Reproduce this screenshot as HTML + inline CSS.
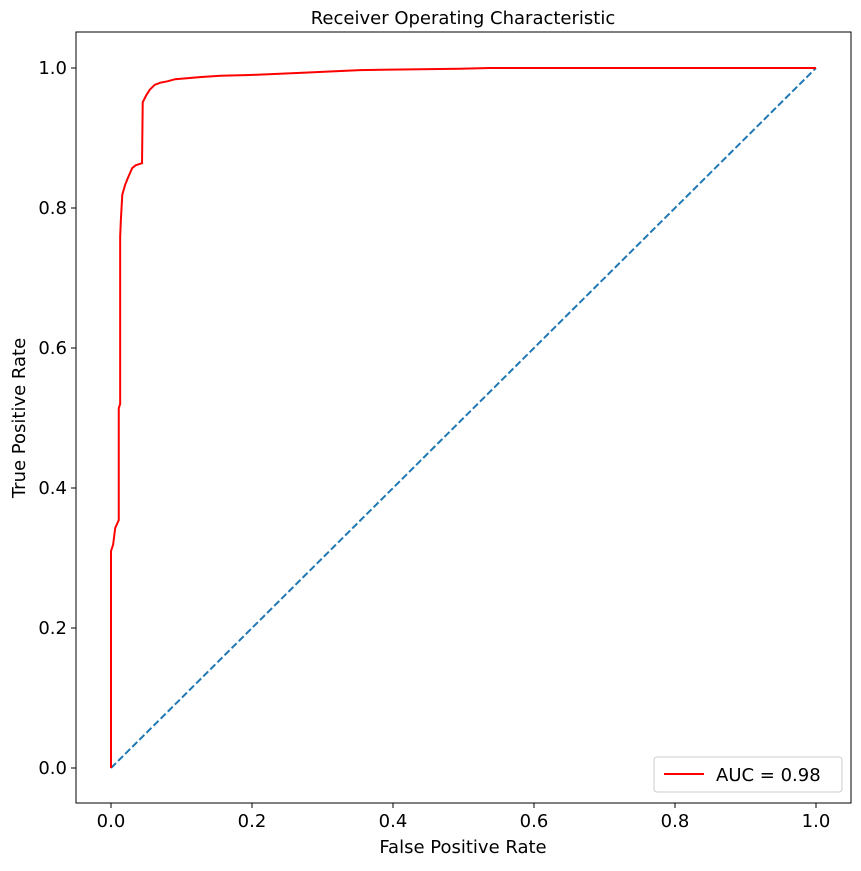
<!DOCTYPE html>
<html><head><meta charset="utf-8"><style>
body{margin:0;background:#fff;font-family:"Liberation Sans","DejaVu Sans",sans-serif}
svg text{font-family:"DejaVu Sans","Liberation Sans",sans-serif;fill:#000}
</style></head><body>
<svg id="chart" width="861" height="866" xmlns="http://www.w3.org/2000/svg">
<rect x="0" y="0" width="861" height="866" fill="#fff"/>
<text x="463" y="24" font-size="18" text-anchor="middle">Receiver Operating Characteristic</text>
<g id="plot"></g>
<rect x="76" y="32" width="775" height="771" fill="none" stroke="#000" stroke-width="1"/>
<text x="463" y="853" font-size="18" text-anchor="middle">False Positive Rate</text>
<text x="25" y="418" font-size="18" text-anchor="middle" transform="rotate(-90 25 418)">True Positive Rate</text>
<g>
<rect x="654" y="757" width="188" height="35" rx="3" fill="#fff" stroke="#ccc"/>
<line x1="664" y1="774" x2="704" y2="774" stroke="red" stroke-width="2"/>
<text x="716" y="781" font-size="18">AUC = 0.98</text>
</g>
</svg>
<script>
const fpr = [0,0,0.003,0.006,0.011,0.011,0.013,0.013,0.014,0.016,0.020,0.024,0.030,0.035,0.044,0.045,0.050,0.055,0.062,0.070,0.080,0.091,0.126,0.155,0.197,0.268,0.353,0.495,0.537,1];
const tpr = [0,0.31,0.319,0.343,0.354,0.514,0.52,0.759,0.783,0.819,0.833,0.843,0.857,0.861,0.864,0.951,0.961,0.969,0.976,0.979,0.981,0.984,0.987,0.989,0.990,0.993,0.997,0.999,1.0,1];
const xTicks = [0,0.2,0.4,0.6,0.8,1.0];
const yTicks = [0,0.2,0.4,0.6,0.8,1.0];
const diag = [0,1];

const NS="http://www.w3.org/2000/svg";
const xs = v => 111 + v*705;
const ys = v => 768 - v*700;
const g = document.getElementById('plot');
function mk(t,a){const e=document.createElementNS(NS,t);for(const k in a)e.setAttribute(k,a[k]);g.appendChild(e);return e;}

xTicks.forEach(t=>{
  const l=mk('line',{x1:xs(t),x2:xs(t),y1:803,y2:808,stroke:'#000'});
  
  
  const tx=mk('text',{x:xs(t),y:827,'font-size':18,'text-anchor':'middle'});
  tx.textContent=t.toFixed(1);
  
  
});
yTicks.forEach(t=>{
  const l=mk('line',{x1:71,x2:76,y1:ys(t),y2:ys(t),stroke:'#000'});
  
  
  const tx=mk('text',{x:67,y:ys(t)+6,'font-size':18,'text-anchor':'end'});
  tx.textContent=t.toFixed(1);
  
  
});
const d=mk('line',{x1:xs(diag[0]),y1:ys(diag[0]),x2:xs(diag[1]),y2:ys(diag[1]),stroke:'#1f77b4','stroke-width':2,'stroke-dasharray':'7,3'});


const pts=fpr.map((v,i)=>xs(v)+','+ys(tpr[i])).join(' ');
const p=mk('polyline',{points:pts,fill:'none',stroke:'red','stroke-width':2});


</script>
</body></html>
